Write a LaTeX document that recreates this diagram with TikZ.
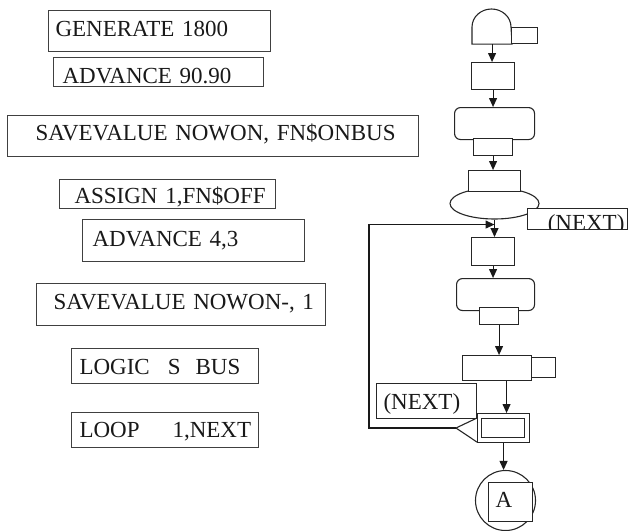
\documentclass[tikz,border=0pt]{standalone}
\usepackage{fontspec}
\setmainfont{Liberation Serif}
\usetikzlibrary{arrows.meta,shapes.geometric}
\begin{document}
\begin{tikzpicture}[x=1pt,y=-1pt,
  every node/.style={font=\fontsize{23}{27}\selectfont, text=black!90},
  stmt/.style={draw=black!75, line width=1.1pt, anchor=north west, inner xsep=0pt, inner ysep=0pt, align=left},
  blk/.style={draw=black!85, line width=1.1pt, fill=white, anchor=north west, inner sep=0pt},
  arr/.style={-{Triangle[length=9pt,width=8pt]}, line width=1.1pt, draw=black!90},
  ln/.style={line width=1.1pt, draw=black!85}]
\useasboundingbox (0,0) rectangle (631,530);

% ---- left: program statements ----
\node[stmt, text width=222pt, text height=26pt, text depth=14.5pt] (s1) at (48,10) {\hspace*{7pt}\mbox{GENERATE 1800}};
\node[stmt, text width=210pt, text height=25.5pt, text depth=3.5pt] (s2) at (53,57) {\hspace*{9pt}\mbox{ADVANCE 90.90}};
\node[stmt, text width=411pt, text height=25pt, text depth=16pt] (s3) at (7,115) {\hspace*{28pt}\mbox{SAVEVALUE NOWON, FN\$ONBUS}};
\node[stmt, text width=216pt, text height=24pt, text depth=5pt] (s4) at (59,179) {\hspace*{15pt}\mbox{ASSIGN 1,FN\$OFF}};
\node[stmt, text width=222pt, text height=26.7pt, text depth=15.3pt] (s5) at (82,219) {\hspace*{10pt}\mbox{ADVANCE 4,3}};
\node[stmt, text width=289pt, text height=26pt, text depth=16pt] (s6) at (36,283) {\hspace*{17pt}\mbox{SAVEVALUE NOWON-, 1}};
\node[stmt, text width=187pt, text height=26pt, text depth=9pt] (s7) at (71,348) {\hspace*{8pt}\mbox{LOGIC\hspace{18pt}S\hspace{15pt}BUS}};
\node[stmt, text width=187pt, text height=25.3pt, text depth=9.7pt] (s8) at (71,412) {\hspace*{8pt}\mbox{LOOP\hspace{33pt}1,NEXT}};

% ---- right: block diagram ----
\node[blk, draw=none, fill=none, minimum width=39pt, minimum height=16pt] (gen) at (472,27) {};
\draw[ln] (gen.south west) -- (gen.north west) arc[start angle=180, end angle=360, x radius=19.5, y radius=18] -- (gen.south east) -- cycle;
\node[blk, minimum width=26pt, minimum height=16pt] (gent) at (511,27) {};

\node[blk, minimum width=43pt, minimum height=27pt] (adv1) at (471,62) {};
\node[blk, rounded corners=6pt, minimum width=80pt, minimum height=32pt] (sv1) at (454,107) {};
\node[blk, minimum width=39pt, minimum height=17pt] (sv1s) at (473,138) {};

\node[ellipse, draw=black!85, line width=1.1pt, fill=white, inner sep=0pt, minimum width=89pt, minimum height=31pt] (asgE) at (494.5,203.5) {};
\node[blk, minimum width=52pt, minimum height=21pt] (asg) at (468,170) {};
\node[blk, minimum width=100pt, minimum height=21pt,
  path picture={\node[anchor=base west, inner sep=0pt] (next1t) at ([xshift=8pt,yshift=-22.2pt]path picture bounding box.north west) {(NEXT)};}] (next1) at (527,208) {};

\node[blk, minimum width=43pt, minimum height=28pt] (adv2) at (471,237) {};
\node[blk, rounded corners=6pt, minimum width=78pt, minimum height=32pt] (sv2) at (456,278) {};
\node[blk, minimum width=39pt, minimum height=17pt] (sv2s) at (479,307) {};

\node[blk, minimum width=69pt, minimum height=25pt] (logic) at (462,355) {};
\node[blk, minimum width=24pt, minimum height=20pt] (logics) at (531,357) {};

\node[blk, text width=100pt, text height=26.3pt, text depth=8.7pt, align=left] (next2) at (376,383) {\hspace*{7pt}(NEXT)};

\node[blk, minimum width=52pt, minimum height=29pt] (loopo) at (477,413) {};
\node[blk, minimum width=43pt, minimum height=19pt] (loopi) at (481,418) {};
\coordinate (tip) at (456,428);
\draw[ln] ([yshift=-5pt]loopo.north west) -- (tip) -- ([yshift=1pt]loopo.south west);

\node[circle, draw=black!85, line width=1.1pt, inner sep=0pt, minimum size=60pt] (circ) at (505.5,500.5) {};
\node[blk, text width=44pt, text height=25.3pt, text depth=13.7pt, align=left] (asq) at (488,482) {\hspace*{7pt}A};

% ---- connectors ----
\draw[arr] (gen.south) -- (gen.south |- adv1.north);
\draw[arr] (adv1.south) -- (adv1.south |- sv1.north);
\draw[arr] (sv1s.south) -- (sv1s.south |- asg.north);
\draw[arr] (asgE.south) -- (asgE.south |- adv2.north);
\draw[arr] (adv2.south) -- (adv2.south |- sv2.north);
\draw[arr] (sv2s.south) -- (sv2s.south |- logic.north);
\draw[arr] ([xshift=3pt]loopo.north |- logic.south) -- ([xshift=3pt]loopo.north);
\draw[arr] (loopo.south) -- (loopo.south |- circ.north);
\coordinate (ret) at (369,428);
\draw[arr] (tip) -- (ret) |- ([yshift=-5pt]asgE.south);
\end{tikzpicture}
\end{document}
